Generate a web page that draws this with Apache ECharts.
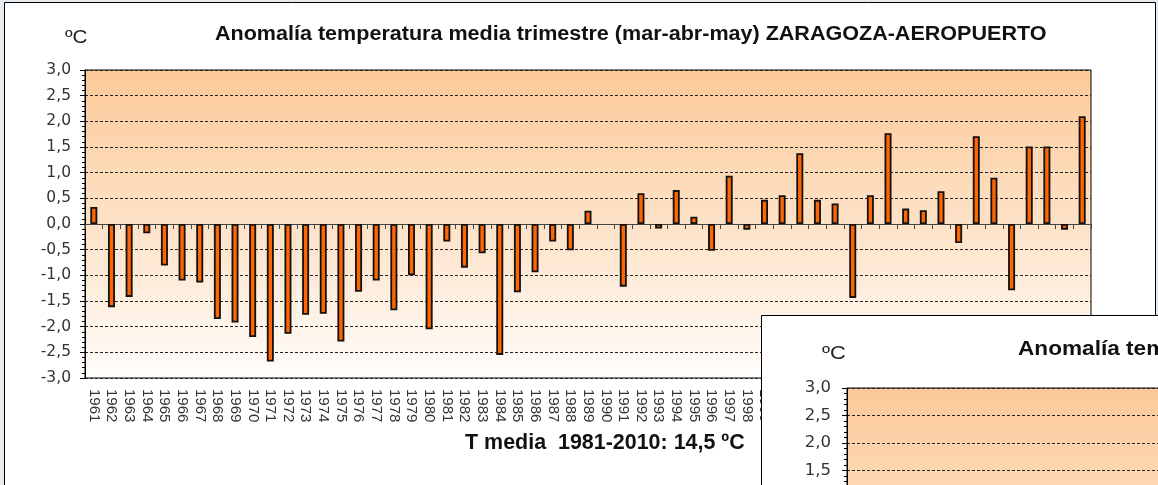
<!DOCTYPE html>
<html>
<head>
<meta charset="utf-8">
<script src="https://cdn.jsdelivr.net/npm/echarts@6/dist/echarts.min.js"></script>
<style>
html,body{margin:0;padding:0;background:#e6ebf1;}
#c{width:1158px;height:485px;}
</style>
</head>
<body>
<div id="c"></div>
<script>
const years = ['1961','1962','1963','1964','1965','1966','1967','1968','1969','1970',
'1971','1972','1973','1974','1975','1976','1977','1978','1979','1980',
'1981','1982','1983','1984','1985','1986','1987','1988','1989','1990',
'1991','1992','1993','1994','1995','1996','1997','1998','1999','2000',
'2001','2002','2003','2004','2005','2006','2007','2008','2009','2010',
'2011','2012','2013','2014','2015','2016','2017'];
const anomalies = [0.33,-1.62,-1.42,-0.18,-0.81,-1.10,-1.14,-1.85,-1.92,-2.20,
-2.68,-2.14,-1.77,-1.75,-2.29,-1.32,-1.10,-1.68,-1.00,-2.05,
-0.34,-0.85,-0.57,-2.55,-1.33,-0.94,-0.34,-0.51,0.26,null,
-1.22,0.60,-0.09,0.66,0.14,-0.52,0.94,-0.11,0.47,0.56,
1.38,0.47,0.40,-1.44,0.56,1.77,0.30,0.27,0.64,-0.37,
1.71,0.90,-1.29,1.51,1.51,-0.11,2.10];
const titleText = 'Anomalía temperatura media trimestre (mar-abr-may) ZARAGOZA-AEROPUERTO';
const subtitleText = 'T media  1981-2010: 14,5 ºC';
const unitText = 'ºC';
const yMin = -3, yMax = 3, yStep = 0.5;

const FONT = 'Liberation Sans';
const WIDEFONT = 'DejaVu Sans';
const plotBg = {type:'linear', x:0, y:0, x2:0, y2:1, colorStops:[
  {offset:0, color:'#fcc998'}, {offset:0.5, color:'#fde2c7'}, {offset:1, color:'#fffdfb'}]};
const fmt = v => '{t|' + v.toFixed(1).replace('.', ',') + '}';

function yAxisOf(extra, fontSize, margin) {
  return Object.assign({
    type:'value', min:yMin, max:yMax, interval:yStep,
    axisLine:{show:true, lineStyle:{color:'#000', width:1}},
    axisTick:{show:true, length:5, lineStyle:{color:'#000'}},
    minorTick:{show:true, splitNumber:5, length:3, lineStyle:{color:'#000'}},
    splitLine:{show:true, lineStyle:{color:'#222', type:[3,2], width:1}},
    axisLabel:{show:true, formatter:fmt, margin:margin,
      rich:{t:{fontFamily:WIDEFONT, fontSize:fontSize, color:'#333'}}}
  }, extra);
}

const chart = echarts.init(document.getElementById('c'), null, {renderer:'canvas'});
chart.setOption({
  backgroundColor:'#ffffff',
  animation:false,
  textStyle:{fontFamily:FONT},
  grid:[
    {left:85, top:70, width:1006, height:308, show:true, borderColor:'#000', borderWidth:1,
     backgroundColor:plotBg, containLabel:false, outerBoundsMode:'none'},
    {left:847, top:388, width:1006, height:330, show:true, borderColor:'#000', borderWidth:1,
     backgroundColor:plotBg, containLabel:false, outerBoundsMode:'none', zlevel:1, z:5}
  ],
  xAxis:[
    {type:'category', gridIndex:0, data:years, boundaryGap:true,
     axisLine:{show:true, lineStyle:{color:'#444'}},
     axisTick:{show:true, alignWithLabel:false, length:5, lineStyle:{color:'#444'}},
     axisLabel:{show:true, interval:0, rotate:-90, margin:11,
       formatter: v => '{t|' + v + '}',
       rich:{t:{fontFamily:FONT, fontSize:15, color:'#333'}}}},
    {type:'category', gridIndex:1, data:years, show:false, zlevel:1, z:6}
  ],
  yAxis:[
    yAxisOf({gridIndex:0}, 15.5, 14),
    yAxisOf({gridIndex:1, zlevel:1, z:6}, 16.5, 16)
  ],
  series:[{
    type:'bar', xAxisIndex:0, yAxisIndex:0, data:anomalies, barWidth:7,
    itemStyle:{color:'#ff6600', borderColor:'#111', borderWidth:1.8}
  }],
  graphic:[
    {type:'rect', shape:{x:0,y:0,width:4,height:485}, style:{fill:'#e6ebf1'}, silent:true},
    {type:'rect', shape:{x:0,y:0,width:1158,height:2}, style:{fill:'#e6ebf1'}, silent:true},
    {type:'rect', shape:{x:1156,y:0,width:2,height:485}, style:{fill:'#e6ebf1'}, silent:true},
    {type:'rect', shape:{x:4.5,y:2.5,width:1151,height:600}, style:{fill:'none', stroke:'#000', lineWidth:1}, silent:true},
    {type:'text', x:65, y:29, scaleX:1.15, style:{text:unitText, fontFamily:FONT, fontSize:18, fill:'#222'}},
    {type:'text', x:215, y:24.5, scaleX:1.077, style:{text:titleText, fontFamily:FONT, fontWeight:'bold', fontSize:20, fill:'#111'}},
    {type:'text', x:465, y:432, scaleX:0.975, style:{text:subtitleText, fontFamily:FONT, fontWeight:'bold', fontSize:22, fill:'#111'}},
    {type:'rect', zlevel:1, z:0, shape:{x:761.5,y:315.5,width:500,height:300}, style:{fill:'#ffffff', stroke:'#000', lineWidth:1}, silent:true},
    {type:'text', zlevel:1, z:10, x:822, y:344, scaleX:1.15, style:{text:unitText, fontFamily:FONT, fontSize:19, fill:'#222'}},
    {type:'text', zlevel:1, z:10, x:1018, y:339, scaleX:1.077, style:{text:titleText, fontFamily:FONT, fontWeight:'bold', fontSize:21, fill:'#111'}}
  ]
});
</script>
</body>
</html>
